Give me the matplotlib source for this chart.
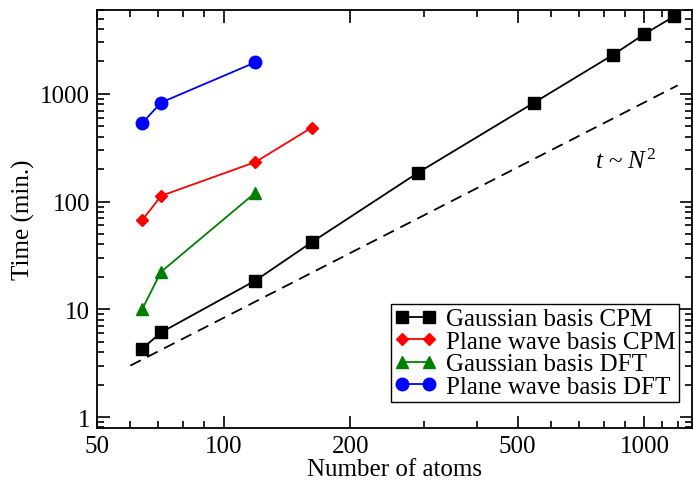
import matplotlib
matplotlib.use("Agg")
import matplotlib.pyplot as plt
import numpy as np
from matplotlib.ticker import FixedLocator, NullFormatter, FixedFormatter

plt.rcParams['font.family'] = ['Liberation Serif', 'DejaVu Serif']
plt.rcParams['mathtext.fontset'] = 'custom'
plt.rcParams['mathtext.it'] = 'Liberation Serif:italic'
plt.rcParams['mathtext.rm'] = 'Liberation Serif'

# Data
gauss_cpm_n = [64, 71, 119, 162, 290, 546, 843, 1000, 1177]
gauss_cpm_t = [4.3, 6.1, 18.5, 42, 186, 826, 2310, 3590, 5250]
pw_cpm_n = [64, 71, 119, 162]
pw_cpm_t = [67, 113, 233, 487]
gauss_dft_n = [64, 71, 119]
gauss_dft_t = [10, 22.3, 121]
pw_dft_n = [64, 71, 119]
pw_dft_t = [535, 831, 1965]
ref_n = [60, 1200]
ref_coef = 3.0  # t = 3 (N/60)^2

x_ticks = [50, 100, 200, 500, 1000]
x_ticklabels = ["50", "100", "200", "500", "1000"]
y_ticks = [1, 10, 100, 1000]
y_ticklabels = ["1", "10", "100", "1000"]

FS = 18

fig = plt.figure(figsize=(6.93, 4.81), dpi=100)
ax = fig.add_axes([0.14, 0.108, 0.859, 0.869])

ax.set_xscale('log')
ax.set_yscale('log')

rn = np.array(ref_n, dtype=float)
ax.plot(rn, ref_coef * (rn / ref_n[0]) ** 2, 'k--', lw=1.3, dashes=(6.5, 4))

ax.plot(gauss_cpm_n, gauss_cpm_t, '-', color='black', marker='s', ms=8, lw=1.3, label='Gaussian basis CPM')
ax.plot(pw_cpm_n, pw_cpm_t, '-', color='red', marker='D', ms=6.5, lw=1.3, label='Plane wave basis CPM')
ax.plot(gauss_dft_n, gauss_dft_t, '-', color='green', marker='^', ms=9, lw=1.3, label='Gaussian basis DFT')
ax.plot(pw_dft_n, pw_dft_t, '-', color='blue', marker='o', ms=9, lw=1.3, label='Plane wave basis DFT')

ax.set_xlim(50, 1300)
ax.set_ylim(0.79, 6000)

ax.xaxis.set_major_locator(FixedLocator(x_ticks))
ax.xaxis.set_major_formatter(FixedFormatter(x_ticklabels))
minor_x = [60, 70, 80, 90, 300, 400, 600, 700, 800, 900, 1100, 1200]
ax.xaxis.set_minor_locator(FixedLocator(minor_x))
ax.xaxis.set_minor_formatter(NullFormatter())

ax.yaxis.set_major_locator(FixedLocator(y_ticks))
ax.yaxis.set_major_formatter(FixedFormatter(y_ticklabels))
minor_y = [m * 10 ** e for e in range(-1, 4) for m in range(2, 10)]
ax.yaxis.set_minor_locator(FixedLocator(minor_y))
ax.yaxis.set_minor_formatter(NullFormatter())

ax.tick_params(which='both', direction='in', top=True, right=True, labelsize=FS, width=1.2)
ax.tick_params(which='major', length=9)
ax.tick_params(which='minor', length=5)
ax.tick_params(axis='x', pad=5)
ax.tick_params(axis='y', pad=5)
for s in ax.spines.values():
    s.set_linewidth(1.3)

ax.set_xlabel('Number of atoms', fontsize=FS, labelpad=1)
ax.set_ylabel('Time (min.)', fontsize=FS, labelpad=4)

ax.text(765, 240, r'$t$ ~ $N^2$', fontsize=FS, va='center', ha='left')

leg = ax.legend(loc='lower right', fontsize=FS, numpoints=2, handlelength=1.7,
                fancybox=False, framealpha=1, edgecolor='black',
                borderpad=0.15, labelspacing=0.0, handletextpad=0.35,
                borderaxespad=0.0, bbox_to_anchor=(0.978, 0.063))
leg.get_frame().set_linewidth(1.0)

fig.savefig('out.png', dpi=100)
